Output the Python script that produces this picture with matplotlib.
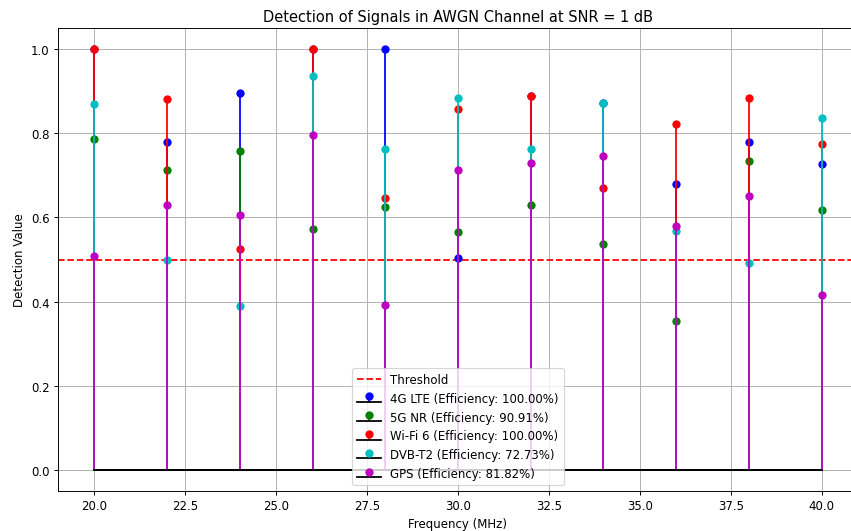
import numpy as np
import matplotlib
matplotlib.use('Agg')
import matplotlib.pyplot as plt

freqs = [20, 22, 24, 26, 28, 30, 32, 34, 36, 38, 40]

lte = [1.000, 0.779, 0.896, 1.000, 1.000, 0.504, 0.889, 0.871, 0.679, 0.780, 0.728]
nr5g = [0.786, 0.712, 0.758, 0.573, 0.626, 0.565, 0.629, 0.536, 0.355, 0.734, 0.618]
wifi6 = [1.000, 0.881, 0.526, 1.000, 0.646, 0.858, 0.889, 0.669, 0.822, 0.883, 0.775]
dvbt2 = [0.870, 0.499, 0.389, 0.937, 0.763, 0.883, 0.763, 0.871, 0.569, 0.491, 0.836]
gps = [0.508, 0.630, 0.605, 0.795, 0.392, 0.712, 0.730, 0.746, 0.579, 0.650, 0.415]

names = ['4G LTE', '5G NR', 'Wi-Fi 6', 'DVB-T2', 'GPS']
series = [lte, nr5g, wifi6, dvbt2, gps]
colors = ['b', 'g', 'r', 'c', 'm']
threshold = 0.5

fig, ax = plt.subplots(figsize=(10.0, 6.25), dpi=85.1)
fig.subplots_adjust(left=58 / 851, right=858 / 851, top=1 - 29 / 532, bottom=1 - 492 / 532)

ax.axhline(threshold, color='r', linestyle='--', label='Threshold')

for name, vals, c in zip(names, series, colors):
    vals = np.array(vals)
    eff = np.mean(vals > threshold) * 100
    ax.stem(freqs, vals, linefmt=c + '-', markerfmt=c + 'o', basefmt='k-',
            label=f'{name} (Efficiency: {eff:.2f}%)')

ax.set_title('Detection of Signals in AWGN Channel at SNR = 1 dB', fontsize=12.4)
ax.set_xlabel('Frequency (MHz)')
ax.set_ylabel('Detection Value')
ax.grid(True)
ax.legend(loc='lower center')

fig.savefig('out.png', dpi=85.1)
